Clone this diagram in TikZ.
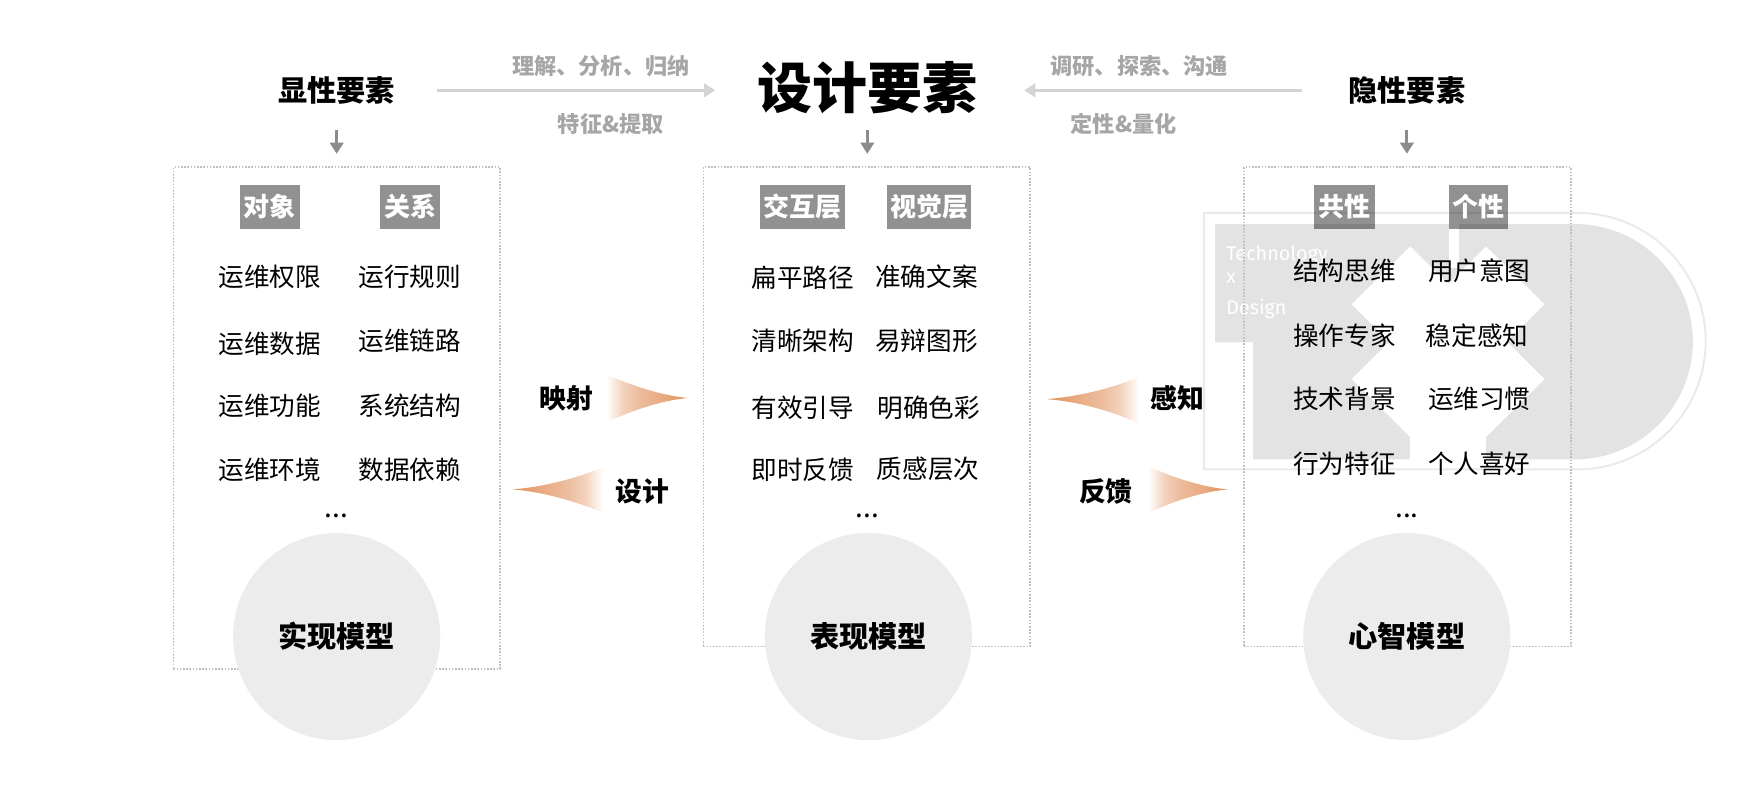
\documentclass[tikz,border=0pt]{standalone}
\usepackage{fontspec}
\setmainfont{Noto Sans CJK SC}
\newfontfamily\logofont{Fira Sans}
\usetikzlibrary{arrows.meta,positioning}
\definecolor{softgray}{HTML}{A6A6A6}
\definecolor{linegray}{HTML}{D4D4D4}
\definecolor{downgray}{HTML}{8C8C8C}
\definecolor{dotgray}{HTML}{C0C0C0}
\definecolor{circgray}{HTML}{ECECEC}
\definecolor{logogray}{HTML}{E3E3E3}
\definecolor{logoline}{HTML}{EAEAEA}
\definecolor{tiporange}{HTML}{DC7A3C}
\definecolor{dartZ}{HTML}{FBEEE5}
\definecolor{dartA}{HTML}{F3D2BC}
\definecolor{dartB}{HTML}{ECBD9E}
\definecolor{dartC}{HTML}{E9A97F}
\definecolor{dartD}{HTML}{E39660}
\pgfdeclarehorizontalshading{dartright}{100bp}{color(0bp)=(white); color(25bp)=(white); color(29bp)=(dartZ); color(35bp)=(dartA); color(45bp)=(dartB); color(60bp)=(dartC); color(71bp)=(dartD); color(75bp)=(tiporange); color(100bp)=(tiporange)}
\pgfdeclarehorizontalshading{dartleft}{100bp}{color(0bp)=(tiporange); color(25bp)=(tiporange); color(29bp)=(dartD); color(40bp)=(dartC); color(55bp)=(dartB); color(65bp)=(dartA); color(71bp)=(dartZ); color(75bp)=(white); color(100bp)=(white)}
\tikzset{
  every node/.style={inner sep=0pt,outer sep=0pt},
  framebox/.style={draw=dotgray,line width=0.8pt,dash pattern=on 0.8pt off 0.8pt,minimum width=163.3pt},
  headtag/.style={fill=black,fill opacity=.43,text opacity=1,text=white,font=\fontsize{13}{15}\selectfont\bfseries,minimum height=21.7pt},
  item/.style={font=\fontsize{12.8}{15}\selectfont,text=black},
  dotsmark/.style={font=\fontsize{14}{15}\selectfont,text=black},
  model/.style={circle,fill=circgray,minimum size=103.6pt,font=\fontsize{14.6}{17}\selectfont\bfseries,text=black},
  heading/.style={font=\fontsize{14.6}{17}\selectfont\bfseries,text=black,minimum height=14.5pt},
  maintitle/.style={font=\fontsize{27.5}{32}\selectfont\bfseries,text=black,minimum height=30pt},
  relation/.style={font=\fontsize{13.4}{16}\selectfont\bfseries,text=black},
  softlabel/.style={font=\fontsize{11.1}{14}\selectfont\bfseries,text=softgray},
  downarrow/.style={draw=downgray,line width=1.4pt,-{Triangle[length=5.6pt,width=6.7pt]}},
  sidearrow/.style={draw=linegray,line width=1.7pt,-{Triangle[length=5.6pt,width=6.7pt]}},
  logotext/.style={font=\logofont\fontsize{9.9}{11}\selectfont,text=white,anchor=west},
}
\begin{document}
\begin{tikzpicture}[x=0.5574pt,y=-0.5574pt]
\useasboundingbox (0,0) rectangle (1568,708.7);

% watermark logo
\fill[logogray] (1090,201) -- (1413,201) arc[start angle=-90,end angle=90,radius=105.5] -- (1124,412) -- (1124,307) -- (1090,307) -- cycle;
\fill[white] (1265,221) -- (1317.5,273) -- (1265,325) -- (1212.5,273) -- cycle;
\fill[white] (1333,221) -- (1385.5,273) -- (1333,325) -- (1280.5,273) -- cycle;
\fill[white] (1265,288) -- (1317.5,340) -- (1265,392) -- (1212.5,340) -- cycle;
\fill[white] (1333,288) -- (1385.5,340) -- (1333,392) -- (1280.5,340) -- cycle;
\fill[white] (1265,273) rectangle (1333,413);
\fill[white] (1300,200) rectangle (1309,240);
\draw[logoline,line width=1pt] (1080,191) -- (1415,191) arc[start angle=-90,end angle=90,radius=115] -- (1080,421) -- cycle;
\node[logotext] (lt) at (1100,229) {Technology};
\node[logotext] (lx) at (1100,250) {x};
\node[logotext] (ld) at (1100,277) {Design};

% frames
\node[framebox,minimum height=250.8pt] (box1) at (302,375) {};
\node[framebox,minimum height=239.7pt] (box2) at (777.5,365) {};
\node[framebox,minimum height=239.7pt] (box3) at (1262.5,365) {};

% models
\node[model] (m1) at (302,571) {实现模型};
\node[model] (m2) at (779,571) {表现模型};
\node[model] (m3) at (1262,571) {心智模型};

% headings
\node[heading] (h1) at (302,81) {显性要素};
\node[maintitle] (title) at (778,79) {设计要素};
\node[heading] (h3) at (1262,81) {隐性要素};

\draw[downarrow,shorten <=12.5pt,shorten >=6.7pt] (h1.south) -- (box1.north-|h1.south);
\draw[downarrow,shorten <=6pt,shorten >=6.7pt] (title.south) -- (box2.north-|title.south);
\draw[downarrow,shorten <=12.5pt,shorten >=6.7pt] (h3.south) -- (box3.north-|h3.south);
\draw[sidearrow,shorten <=21pt,shorten >=21pt] (h1.east) -- (title.west|-h1.east);
\draw[sidearrow,shorten <=23.4pt,shorten >=23.4pt] (h3.west) -- (title.east|-h3.west);

\node[softlabel] (s1) at (539,59.5) {理解、分析、归纳};
\node[softlabel] (s2) at (548,111.5) {特征\&提取};
\node[softlabel] (s3) at (1022,59.5) {调研、探索、沟通};
\node[softlabel] (s4) at (1008,111.5) {定性\&量化};

% tags
\node[headtag,minimum width=30.1pt] (t11) at (242,185.5) {对象};
\node[headtag,minimum width=30.1pt] (t12) at (368,185.5) {关系};
\node[headtag,minimum width=42.4pt] (t21) at (720,185.5) {交互层};
\node[headtag,minimum width=41.8pt] (t22) at (833.5,185.5) {视觉层};
\node[headtag,minimum width=30.1pt] (t31) at (1206,185.5) {共性};
\node[headtag,minimum width=29.5pt] (t32) at (1326.5,185.5) {个性};

% lists
\node[item] at (242,248) {运维权限};
\node[item] at (367.5,248) {运行规则};
\node[item] at (242,308) {运维数据};
\node[item] at (367.5,306) {运维链路};
\node[item] at (242,364) {运维功能};
\node[item] at (367.5,364) {系统结构};
\node[item] at (242,421) {运维环境};
\node[item] at (367.5,421) {数据依赖};
\node[dotsmark] at (302,463) {...};

\node[item] at (720,249) {扁平路径};
\node[item] at (831,248) {准确文案};
\node[item] at (720,306) {清晰架构};
\node[item] at (831,306) {易辩图形};
\node[item] at (720,366) {有效引导};
\node[item] at (833,366) {明确色彩};
\node[item] at (720,421) {即时反馈};
\node[item] at (832.5,421) {质感层次};
\node[dotsmark] at (778,463) {...};

\node[item] at (1206,243) {结构思维};
\node[item] at (1327,243) {用户意图};
\node[item] at (1206,301) {操作专家};
\node[item] at (1325,301) {稳定感知};
\node[item] at (1206,358) {技术背景};
\node[item] at (1327,358) {运维习惯};
\node[item] at (1206,416) {行为特征};
\node[item] at (1327,416) {个人喜好};
\node[dotsmark] at (1262,463) {...};

% relation labels
\node[relation] (r1) at (508,357) {映射};
\node[relation] (r2) at (576,441) {设计};
\node[relation] (r3) at (1056,357) {感知};
\node[relation] (r4) at (992,441) {反馈};

% gradient darts
\shade[shading=dartright] (544,336) .. controls (570,347) and (595,355) .. (617,357) .. controls (595,359) and (570,367) .. (546,378) -- cycle;
\shade[shading=dartleft] (541,419) .. controls (515,430) and (485,437) .. (460,439) .. controls (485,441) and (515,449) .. (541,460) -- cycle;
\shade[shading=dartleft] (1022,338) .. controls (996,349) and (965,356) .. (939,358) .. controls (965,360) and (996,368) .. (1022,380) -- cycle;
\shade[shading=dartright] (1030,418) .. controls (1053,429) and (1080,437) .. (1101,439) .. controls (1080,441) and (1053,449) .. (1031,460) -- cycle;
\end{tikzpicture}
\end{document}
